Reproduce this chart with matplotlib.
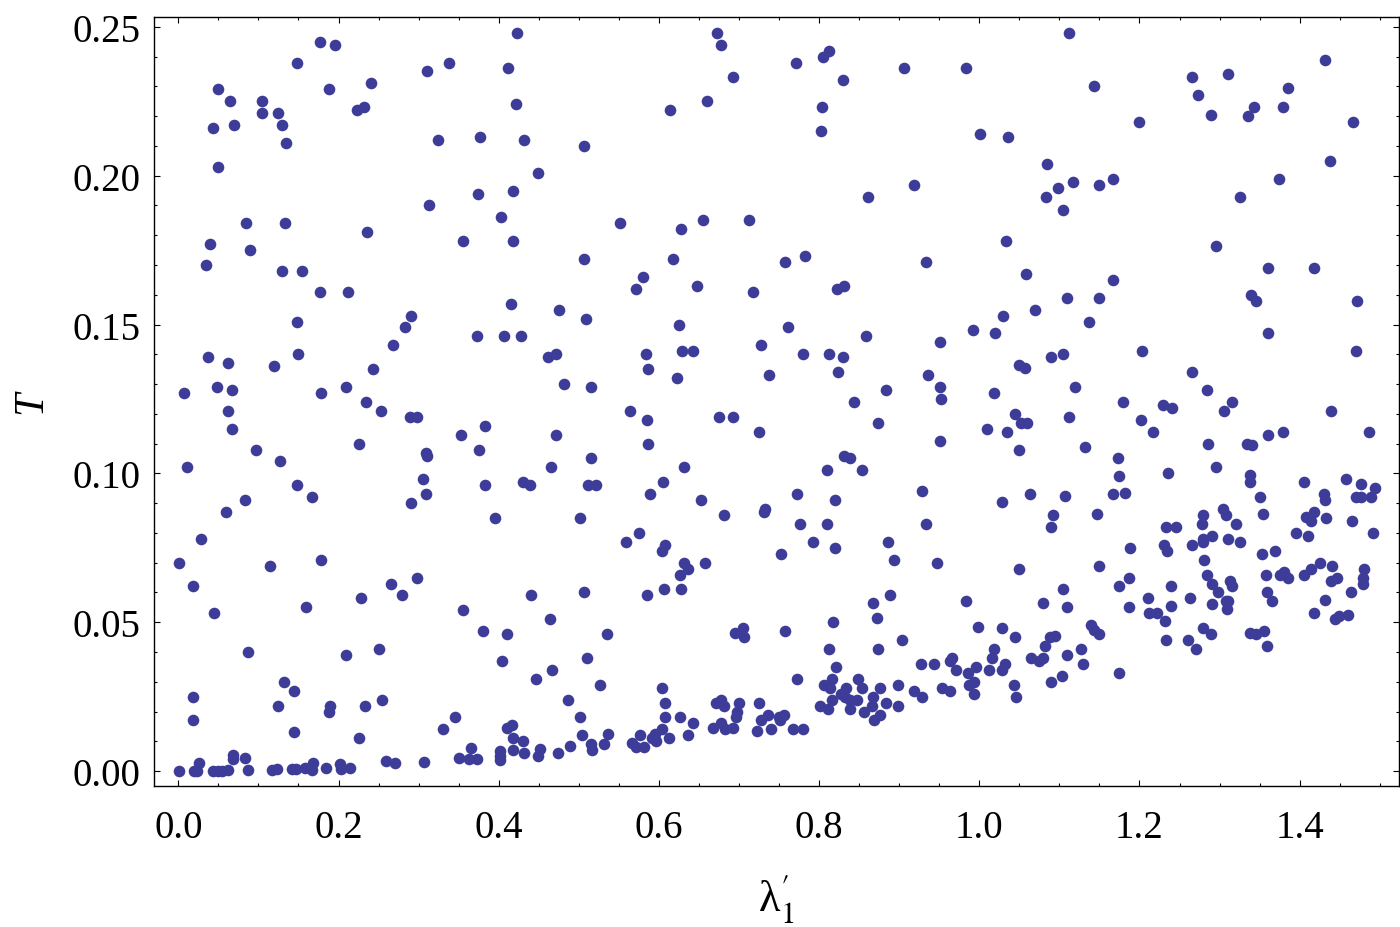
import matplotlib
matplotlib.use("Agg")
import matplotlib.pyplot as plt
from matplotlib.ticker import MultipleLocator, FormatStrFormatter

# ---- data: (lambda'_1, T) pairs, grouped by region ----
pts_top_left = [
    (0.423,0.248),(0.177,0.245),(0.195,0.244),(0.148,0.238),(0.311,0.235),(0.338,0.238),(0.412,0.236),
    (0.050,0.229),(0.188,0.229),(0.241,0.231),(0.064,0.225),(0.104,0.225),(0.223,0.222),(0.232,0.223),
    (0.421,0.224),(0.043,0.216),(0.069,0.217),(0.105,0.221),(0.125,0.221),(0.129,0.217),(0.134,0.211),
    (0.324,0.212),(0.377,0.213),(0.432,0.212),(0.050,0.203),(0.449,0.201),(0.374,0.194),(0.418,0.195),
    (0.313,0.190),(0.403,0.186),(0.085,0.184),(0.133,0.184),(0.236,0.181),(0.356,0.178),(0.418,0.178),
    (0.040,0.177),(0.089,0.175),(0.034,0.170),(0.129,0.168),(0.155,0.168),(0.177,0.161),(0.212,0.161),
    (0.415,0.157),(0.475,0.155),(0.148,0.151),(0.291,0.153),(0.283,0.149),(0.268,0.143),(0.373,0.146),
    (0.406,0.146),(0.428,0.146),(0.037,0.139),(0.062,0.137),(0.120,0.136),(0.149,0.140),(0.461,0.139),
    (0.472,0.140),(0.243,0.135),(0.007,0.127),(0.048,0.129),(0.067,0.128),(0.178,0.127),(0.209,0.129),
    (0.481,0.130),(0.234,0.124),
]

pts_bottom_left = [
    (0.253,0.121),(0.062,0.121),(0.067,0.115),(0.289,0.119),(0.298,0.119),(0.353,0.113),(0.383,0.116),
    (0.472,0.113),(0.225,0.110),(0.097,0.108),(0.375,0.108),(0.309,0.107),(0.310,0.106),(0.127,0.104),
    (0.011,0.102),(0.465,0.102),(0.148,0.096),(0.306,0.098),(0.383,0.096),(0.430,0.097),(0.439,0.096),
    (0.167,0.092),(0.083,0.091),(0.309,0.093),(0.291,0.090),(0.059,0.087),(0.395,0.085),(0.028,0.078),
    (0.001,0.070),(0.114,0.069),(0.178,0.071),(0.018,0.062),(0.265,0.063),(0.279,0.059),(0.298,0.065),
    (0.228,0.058),(0.440,0.059),(0.159,0.055),(0.044,0.053),(0.356,0.054),(0.464,0.051),(0.380,0.047),
    (0.410,0.046),(0.087,0.040),(0.209,0.039),(0.250,0.041),(0.404,0.037),(0.446,0.031),(0.467,0.034),
    (0.132,0.030),(0.145,0.027),(0.018,0.025),(0.125,0.022),(0.189,0.022),(0.188,0.020),(0.233,0.022),
    (0.254,0.024),(0.487,0.024),(0.346,0.018),(0.330,0.014),(0.018,0.017),(0.145,0.013),(0.225,0.011),
    (0.410,0.0145),(0.416,0.0156),(0.418,0.011),(0.430,0.010),(0.418,0.007),(0.432,0.006),(0.449,0.005),
    (0.451,0.0075),(0.474,0.006),(0.489,0.0085),(0.401,0.0068),(0.401,0.0051),(0.401,0.0038),
    (0.351,0.0045),(0.363,0.0041),(0.366,0.0078),(0.373,0.0041),(0.307,0.0031),(0.259,0.0035),
    (0.270,0.0028),(0.001,0.0001),(0.019,0.0001),(0.023,0.0001),(0.026,0.0028),(0.043,0.0001),
    (0.049,0.0001),(0.054,0.0001),(0.062,0.0004),(0.068,0.0055),(0.068,0.0041),(0.083,0.0045),
    (0.087,0.0004),(0.117,0.0004),(0.123,0.0008),(0.142,0.0008),(0.147,0.0008),(0.158,0.0011),
    (0.168,0.0028),(0.167,0.0004),(0.185,0.0011),(0.202,0.0025),(0.203,0.0008),(0.214,0.0011),
]

pts_top_mid = [
    (0.673,0.248),(0.677,0.244),(0.812,0.242),(0.805,0.240),(0.771,0.238),(0.906,0.236),(0.983,0.236),
    (0.830,0.232),(0.692,0.233),(0.660,0.225),(0.614,0.222),(0.803,0.223),(0.802,0.215),(1.001,0.214),
    (0.507,0.210),(0.919,0.197),(0.861,0.193),(0.552,0.184),(0.627,0.182),(0.655,0.185),(0.713,0.185),
    (0.507,0.172),(0.617,0.172),(0.757,0.171),(0.782,0.173),(0.934,0.171),(0.580,0.166),(0.571,0.162),
    (0.647,0.163),(0.717,0.161),(0.822,0.162),(0.831,0.163),(0.509,0.152),(0.625,0.150),(0.761,0.149),
    (0.858,0.146),(0.951,0.144),(0.992,0.148),(0.584,0.140),(0.629,0.141),(0.642,0.141),(0.728,0.143),
    (0.780,0.140),(0.812,0.140),(0.830,0.139),(0.586,0.135),(0.823,0.134),(0.936,0.133),(0.515,0.129),
    (0.622,0.132),(0.738,0.133),(0.883,0.128),(0.951,0.129),(0.952,0.125),(0.843,0.124),
]

pts_bottom_mid = [
    (0.564,0.121),(0.585,0.118),(0.587,0.110),(0.675,0.119),(0.693,0.119),(0.725,0.114),(0.873,0.117),
    (0.951,0.111),(0.515,0.105),(0.511,0.096),(0.521,0.096),(0.631,0.102),(0.605,0.097),(0.589,0.093),
    (0.653,0.091),(0.681,0.086),(0.501,0.085),(0.831,0.106),(0.839,0.105),(0.810,0.101),(0.854,0.101),
    (0.928,0.094),(0.772,0.093),(0.820,0.091),(0.731,0.087),(0.732,0.088),(0.776,0.083),(0.810,0.083),
    (0.934,0.083),(0.559,0.077),(0.575,0.080),(0.607,0.076),(0.604,0.074),(0.657,0.070),(0.631,0.070),
    (0.636,0.068),(0.626,0.066),(0.627,0.061),(0.606,0.061),(0.585,0.059),(0.753,0.073),(0.792,0.077),
    (0.820,0.075),(0.886,0.077),(0.894,0.071),(0.947,0.070),(0.507,0.060),(0.535,0.046),(0.510,0.038),
    (0.527,0.029),(0.501,0.018),(0.504,0.012),(0.515,0.009),(0.517,0.007),(0.531,0.009),(0.536,0.0125),
    (0.695,0.0465),(0.705,0.048),(0.706,0.045),(0.758,0.047),(0.817,0.050),(0.867,0.0565),(0.888,0.059),
    (0.872,0.0515),(0.984,0.057),(0.999,0.0485),(0.812,0.041),(0.873,0.041),(0.903,0.044),(0.821,0.035),
    (0.773,0.031),(0.816,0.031),(0.806,0.029),(0.813,0.028),(0.849,0.031),(0.833,0.028),(0.853,0.028),
    (0.876,0.028),(0.899,0.029),(0.927,0.036),(0.943,0.036),(0.966,0.038),(0.963,0.037),(0.971,0.034),
    (0.986,0.033),(0.996,0.035),(0.994,0.030),(0.987,0.029),(0.994,0.026),(0.954,0.028),(0.963,0.027),
    (0.918,0.027),(0.928,0.025),(0.898,0.022),(0.884,0.023),(0.867,0.025),(0.866,0.022),(0.876,0.019),
    (0.869,0.017),(0.856,0.020),(0.847,0.024),(0.839,0.021),(0.838,0.024),(0.827,0.026),(0.816,0.024),
    (0.801,0.022),(0.811,0.021),(0.832,0.025),(0.725,0.023),(0.700,0.023),(0.671,0.023),(0.677,0.024),
    (0.681,0.022),(0.697,0.020),(0.696,0.018),(0.692,0.0145),(0.683,0.014),(0.677,0.016),(0.668,0.0145),
    (0.727,0.017),(0.736,0.019),(0.750,0.018),(0.756,0.019),(0.751,0.017),(0.722,0.0135),(0.740,0.014),
    (0.768,0.014),(0.780,0.014),(0.604,0.028),(0.607,0.023),(0.607,0.018),(0.626,0.018),(0.642,0.016),
    (0.636,0.012),(0.612,0.011),(0.604,0.014),(0.595,0.0125),(0.596,0.010),(0.576,0.012),(0.567,0.0095),
    (0.571,0.008),(0.582,0.008),(0.592,0.011),
]

pts_top_right = [
    (1.112,0.248),(1.431,0.239),(1.266,0.233),(1.311,0.234),(1.273,0.227),(1.385,0.2295),(1.143,0.230),
    (1.289,0.2205),(1.343,0.223),(1.335,0.220),(1.379,0.223),(1.466,0.218),(1.200,0.218),(1.036,0.213),
    (1.085,0.204),(1.438,0.205),(1.098,0.196),(1.117,0.198),(1.150,0.197),(1.167,0.199),(1.083,0.193),
    (1.104,0.1885),(1.374,0.199),(1.325,0.193),(1.033,0.178),(1.295,0.1765),(1.058,0.167),(1.167,0.165),
    (1.360,0.169),(1.418,0.169),(1.029,0.153),(1.070,0.155),(1.109,0.159),(1.149,0.159),(1.137,0.151),
    (1.339,0.160),(1.346,0.158),(1.471,0.158),(1.019,0.147),(1.360,0.147),(1.089,0.139),(1.104,0.140),
    (1.049,0.1365),(1.057,0.1355),(1.203,0.141),(1.470,0.141),(1.266,0.134),(1.120,0.129),(1.018,0.127),
    (1.284,0.128),(1.179,0.124),(1.315,0.124),
]

pts_bottom_right = [
    (1.229,0.123),(1.240,0.122),(1.305,0.121),(1.439,0.121),(1.044,0.120),(1.052,0.117),(1.059,0.117),
    (1.009,0.115),(1.034,0.114),(1.112,0.119),(1.202,0.118),(1.217,0.114),(1.486,0.114),(1.049,0.108),
    (1.132,0.109),(1.286,0.110),(1.334,0.110),(1.341,0.1096),(1.361,0.113),(1.379,0.114),(1.173,0.105),
    (1.174,0.099),(1.295,0.102),(1.235,0.100),(1.338,0.0995),(1.338,0.097),(1.405,0.097),(1.458,0.098),
    (1.477,0.0965),(1.494,0.095),(1.063,0.093),(1.107,0.0925),(1.167,0.093),(1.182,0.0935),(1.028,0.0905),
    (1.351,0.092),(1.430,0.093),(1.431,0.091),(1.470,0.092),(1.476,0.092),(1.489,0.092),(1.092,0.086),
    (1.089,0.082),(1.147,0.0865),(1.304,0.088),(1.308,0.086),(1.320,0.083),(1.279,0.086),(1.278,0.083),
    (1.354,0.0865),(1.408,0.0855),(1.418,0.087),(1.414,0.084),(1.433,0.085),(1.465,0.084),(1.491,0.080),
    (1.396,0.080),(1.410,0.079),(1.233,0.082),(1.245,0.082),(1.279,0.078),(1.279,0.077),(1.291,0.079),
    (1.310,0.078),(1.325,0.077),(1.265,0.076),(1.230,0.076),(1.234,0.074),(1.188,0.075),(1.353,0.073),
    (1.369,0.074),(1.280,0.071),(1.049,0.068),(1.150,0.069),(1.187,0.065),(1.174,0.062),(1.284,0.066),
    (1.291,0.063),(1.313,0.064),(1.315,0.062),(1.298,0.060),(1.358,0.066),(1.375,0.066),(1.380,0.067),
    (1.386,0.065),(1.405,0.066),(1.414,0.068),(1.425,0.070),(1.440,0.069),(1.439,0.064),(1.446,0.065),
    (1.480,0.068),(1.479,0.065),(1.479,0.063),(1.464,0.060),(1.359,0.060),(1.366,0.057),(1.431,0.0575),
    (1.418,0.053),(1.444,0.051),(1.449,0.052),(1.460,0.0525),(1.210,0.058),(1.212,0.053),(1.222,0.053),
    (1.239,0.062),(1.239,0.0555),(1.263,0.058),(1.232,0.0505),(1.290,0.056),(1.308,0.057),(1.311,0.057),
    (1.309,0.0545),(1.279,0.048),(1.289,0.046),(1.233,0.044),(1.260,0.044),(1.271,0.041),(1.338,0.0465),
    (1.345,0.046),(1.355,0.047),(1.359,0.042),(1.187,0.055),(1.105,0.061),(1.109,0.055),(1.080,0.0565),
    (1.028,0.048),(1.044,0.045),(1.018,0.041),(1.016,0.038),(1.032,0.036),(1.028,0.034),(1.012,0.034),
    (1.043,0.029),(1.046,0.025),(1.065,0.038),(1.075,0.037),(1.080,0.038),(1.082,0.042),(1.088,0.045),
    (1.095,0.0455),(1.090,0.030),(1.103,0.032),(1.110,0.039),(1.127,0.041),(1.129,0.036),(1.140,0.049),
    (1.143,0.0475),(1.150,0.046),(1.174,0.033),
]

regions = [pts_top_left, pts_bottom_left, pts_top_mid, pts_bottom_mid, pts_top_right, pts_bottom_right]
lam = [p[0] for r in regions for p in r]
T = [p[1] for r in regions for p in r]

x_label = "λ" + r"${}_{1}^{\prime}$"
y_label = "T"

# ---- style ----
plt.rcParams["font.family"] = ["Liberation Serif", "DejaVu Serif"]
plt.rcParams["mathtext.fontset"] = "stix"

fig = plt.figure(figsize=(14, 9.28), dpi=100)
ax = fig.add_axes([0.1102, 0.1523, 0.8891, 0.8280])

ax.scatter(lam, T, s=70, color="#3d3d99", linewidths=0, zorder=3)

ax.set_xlim(-0.030, 1.524)
ax.set_ylim(-0.0049, 0.2532)

ax.xaxis.set_major_locator(MultipleLocator(0.2))
ax.xaxis.set_minor_locator(MultipleLocator(0.05))
ax.yaxis.set_major_locator(MultipleLocator(0.05))
ax.yaxis.set_minor_locator(MultipleLocator(0.01))
ax.xaxis.set_major_formatter(FormatStrFormatter("%.1f"))
ax.yaxis.set_major_formatter(FormatStrFormatter("%.2f"))

ax.tick_params(which="both", direction="in", top=True, right=True, width=0.8, color="black")
ax.tick_params(which="major", length=4)
ax.tick_params(which="minor", length=2.2)
ax.tick_params(axis="x", which="major", labelsize=28, pad=17)
ax.tick_params(axis="y", which="major", labelsize=28, pad=10)
for sp in ax.spines.values():
    sp.set_linewidth(1.0)

ax.set_xlabel(x_label, fontsize=32, va="center")
ax.xaxis.set_label_coords(0.5, -0.145)
ax.set_ylabel(y_label, fontsize=30, style="italic", va="center")
ax.yaxis.set_label_coords(-0.099, 0.5)

fig.savefig("out.png", dpi=100)
